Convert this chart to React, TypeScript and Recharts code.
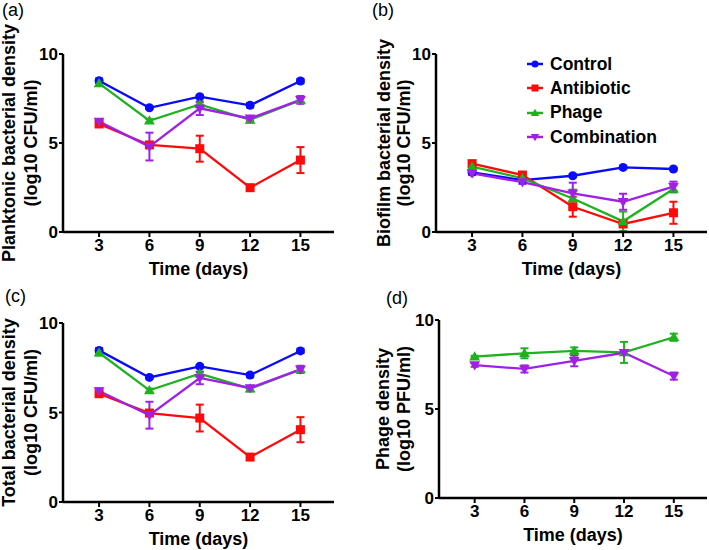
import React from "react";
import { LineChart, Line, XAxis, YAxis, ErrorBar, Legend } from "recharts";

const days = [3, 6, 9, 12, 15];

// (a) planktonic density
const planktonicControl = [8.5, 6.98, 7.6, 7.12, 8.48];
const planktonicControlErr = [0.12, 0.06, 0.08, 0.12, 0.12];
const planktonicAntibiotic = [6.07, 4.89, 4.68, 2.49, 4.04];
const planktonicAntibioticErr = [0.15, 0.1, 0.73, 0.1, 0.73];
const planktonicPhage = [8.35, 6.25, 7.17, 6.3, 7.4];
const planktonicPhageErr = [0.15, 0.1, 0.1, 0.15, 0.1];
const planktonicCombination = [6.2, 4.8, 6.95, 6.38, 7.42];
const planktonicCombinationErr = [0.15, 0.78, 0.38, 0.12, 0.22];

// (b) biofilm density
const biofilmControl = [3.35, 2.92, 3.16, 3.63, 3.54];
const biofilmControlErr = [0.08, 0.05, 0.08, 0.08, 0.08];
const biofilmAntibiotic = [3.84, 3.2, 1.42, 0.45, 1.08];
const biofilmAntibioticErr = [0.1, 0.1, 0.56, 0.15, 0.62];
const biofilmPhage = [3.67, 3.02, 1.88, 0.6, 2.42];
const biofilmPhageErr = [0.1, 0.08, 0.5, 0.55, 0.2];
const biofilmCombination = [3.3, 2.8, 2.17, 1.7, 2.55];
const biofilmCombinationErr = [0.1, 0.1, 0.6, 0.45, 0.28];

// (c) total density
const totalControl = [8.47, 6.96, 7.58, 7.09, 8.44];
const totalControlErr = [0.12, 0.06, 0.08, 0.12, 0.12];
const totalAntibiotic = [6.05, 4.97, 4.69, 2.51, 4.04];
const totalAntibioticErr = [0.15, 0.1, 0.75, 0.1, 0.7];
const totalPhage = [8.34, 6.24, 7.17, 6.33, 7.4];
const totalPhageErr = [0.15, 0.1, 0.1, 0.15, 0.1];
const totalCombination = [6.2, 4.85, 6.93, 6.37, 7.41];
const totalCombinationErr = [0.15, 0.75, 0.35, 0.12, 0.2];

// (d) phage density
const phageDensityPhage = [7.94, 8.13, 8.26, 8.18, 9.03];
const phageDensityPhageErr = [0.05, 0.28, 0.2, 0.59, 0.2];
const phageDensityCombination = [7.47, 7.25, 7.7, 8.16, 6.85];
const phageDensityCombinationErr = [0.1, 0.2, 0.3, 0.1, 0.2];

const yTicks = [0, 5, 10];
const FONT = "'Liberation Sans', Arial, sans-serif";

type Shape = "circle" | "square" | "up" | "down";
type Series = { key: string; name: string; color: string; shape: Shape };

const CONTROL: Series = { key: "control", name: "Control", color: "#0a0aff", shape: "circle" };
const ANTIBIOTIC: Series = { key: "antibiotic", name: "Antibiotic", color: "#ff0a0a", shape: "square" };
const PHAGE: Series = { key: "phage", name: "Phage", color: "#1fb21f", shape: "up" };
const COMBINATION: Series = { key: "combination", name: "Combination", color: "#a020e8", shape: "down" };
const allSeries = [CONTROL, ANTIBIOTIC, PHAGE, COMBINATION];

function rows(cols: Record<string, number[]>) {
  return days.map((day, i) => {
    const r: Record<string, number> = { day };
    Object.keys(cols).forEach((k) => (r[k] = cols[k][i]));
    return r;
  });
}

const dataA = rows({
  control: planktonicControl, controlErr: planktonicControlErr,
  antibiotic: planktonicAntibiotic, antibioticErr: planktonicAntibioticErr,
  phage: planktonicPhage, phageErr: planktonicPhageErr,
  combination: planktonicCombination, combinationErr: planktonicCombinationErr,
});
const dataB = rows({
  control: biofilmControl, controlErr: biofilmControlErr,
  antibiotic: biofilmAntibiotic, antibioticErr: biofilmAntibioticErr,
  phage: biofilmPhage, phageErr: biofilmPhageErr,
  combination: biofilmCombination, combinationErr: biofilmCombinationErr,
});
const dataC = rows({
  control: totalControl, controlErr: totalControlErr,
  antibiotic: totalAntibiotic, antibioticErr: totalAntibioticErr,
  phage: totalPhage, phageErr: totalPhageErr,
  combination: totalCombination, combinationErr: totalCombinationErr,
});
const dataD = rows({
  phage: phageDensityPhage, phageErr: phageDensityPhageErr,
  combination: phageDensityCombination, combinationErr: phageDensityCombinationErr,
});

function marker(shape: Shape, color: string, cx: number, cy: number, s: number, key?: string) {
  if (shape === "circle") return <circle key={key} cx={cx} cy={cy} r={s} fill={color} />;
  if (shape === "square")
    return <rect key={key} x={cx - s} y={cy - s} width={s * 2} height={s * 2} fill={color} />;
  const h = s * 1.2;
  const d =
    shape === "up"
      ? `M${cx},${cy - h} L${cx + h},${cy + s * 0.85} L${cx - h},${cy + s * 0.85} Z`
      : `M${cx},${cy + h} L${cx + h},${cy - s * 0.85} L${cx - h},${cy - s * 0.85} Z`;
  return <path key={key} d={d} fill={color} />;
}

const makeDot = (s: Series) => (props: any) => {
  const { cx, cy, index } = props;
  if (cx == null || cy == null) return <g key={`${s.key}-${index}`} />;
  return marker(s.shape, s.color, cx, cy, 4.5, `${s.key}-${index}`);
};

const tickStyle = { fill: "#000", fontSize: 17, fontWeight: "bold", fontFamily: FONT };

function renderLegend() {
  return (
    <div style={{ fontFamily: FONT }}>
      {allSeries.map((s) => (
        <div key={s.key} style={{ display: "flex", alignItems: "center", height: 24.3 }}>
          <svg width={18} height={12}>
            <line x1={1} x2={17} y1={6} y2={6} stroke={s.color} strokeWidth={2.5} />
            {marker(s.shape, s.color, 9, 6, 3.5)}
          </svg>
          <span style={{ marginLeft: 6, fontSize: 17.5, fontWeight: "bold", color: "#000" }}>
            {s.name}
          </span>
        </div>
      ))}
    </div>
  );
}

type PanelProps = {
  data: Record<string, number>[];
  series: Series[];
  width: number;
  height: number;
  margin: { top: number; right: number; bottom: number; left: number };
  xHeight: number;
  yTitle: [string, string];
  yTitleOffsets: [number, number];
  legend?: boolean;
};

function Panel({ data, series, width, height, margin, xHeight, yTitle, yTitleOffsets, legend }: PanelProps) {
  return (
    <LineChart width={width} height={height} data={data} margin={margin}>
      <XAxis
        type="number"
        dataKey="day"
        domain={[0.85, 17]}
        ticks={days}
        allowDataOverflow
        height={xHeight}
        tick={tickStyle}
        tickSize={5}
        tickMargin={2}
        axisLine={{ stroke: "#000", strokeWidth: 2.5 }}
        tickLine={{ stroke: "#000", strokeWidth: 2 }}
        label={{
          content: (p: any) => {
            const vb = p.viewBox;
            return (
              <text
                x={vb.x + vb.width / 2}
                y={vb.y + 43}
                textAnchor="middle"
                fontSize={18}
                fontWeight="bold"
                fontFamily={FONT}
                fill="#000"
              >
                Time (days)
              </text>
            );
          },
        }}
      />
      <YAxis
        type="number"
        domain={[0, 10]}
        ticks={yTicks}
        width={60}
        tick={tickStyle}
        tickSize={4}
        tickMargin={1}
        axisLine={{ stroke: "#000", strokeWidth: 2.5 }}
        tickLine={{ stroke: "#000", strokeWidth: 2 }}
        label={{
          content: (p: any) => {
            const vb = p.viewBox;
            const right = vb.x + vb.width;
            const cy = vb.y + vb.height / 2;
            return (
              <g fontSize={18} fontWeight="bold" fontFamily={FONT} fill="#000">
                {yTitle.map((t, i) => {
                  const x = right - yTitleOffsets[i];
                  return (
                    <text
                      key={i}
                      x={x}
                      y={cy}
                      textAnchor="middle"
                      dominantBaseline="central"
                      transform={`rotate(-90, ${x}, ${cy})`}
                    >
                      {t}
                    </text>
                  );
                })}
              </g>
            );
          },
        }}
      />
      {legend && (
        <Legend
          layout="vertical"
          align="center"
          verticalAlign="middle"
          content={renderLegend}
          wrapperStyle={{ left: 172, top: 52, width: 180 }}
        />
      )}
      {series.map((s) => (
        <Line
          key={s.key}
          type="linear"
          dataKey={s.key}
          name={s.name}
          stroke={s.color}
          strokeWidth={2.3}
          dot={makeDot(s)}
          activeDot={false}
          isAnimationActive={false}
        >
          <ErrorBar dataKey={`${s.key}Err`} width={4} strokeWidth={2} stroke={s.color} direction="y" />
        </Line>
      ))}
    </LineChart>
  );
}

const panelLabel = (text: string, left: number, top: number) => (
  <div
    style={{
      position: "absolute",
      left,
      top,
      fontFamily: FONT,
      fontSize: 18,
      lineHeight: "20px",
      color: "#000",
    }}
  >
    {text}
  </div>
);

export default function App() {
  return (
    <div style={{ position: "absolute", left: 0, top: 0, width: 709, height: 550, background: "#fff", overflow: "hidden" }}>
      <div style={{ position: "absolute", left: 0, top: 0 }}>
        <Panel
          data={dataA}
          series={allSeries}
          width={354}
          height={290}
          margin={{ top: 54, right: 20, bottom: 15, left: 3 }}
          xHeight={43}
          yTitle={["Planktonic bacterial density", "(log10 CFU/ml)"]}
          yTitleOffsets={[54, 32]}
        />
      </div>
      <div style={{ position: "absolute", left: 354, top: 0 }}>
        <Panel
          data={dataB}
          series={allSeries}
          width={355}
          height={290}
          margin={{ top: 54, right: 2, bottom: 15, left: 22 }}
          xHeight={43}
          yTitle={["Biofilm bacterial density", "(log10 CFU/ml)"]}
          yTitleOffsets={[52, 32]}
          legend
        />
      </div>
      <div style={{ position: "absolute", left: 0, top: 275 }}>
        <Panel
          data={dataC}
          series={allSeries}
          width={354}
          height={275}
          margin={{ top: 48, right: 20, bottom: 0, left: 3 }}
          xHeight={48}
          yTitle={["Total bacterial density", "(log10 CFU/ml)"]}
          yTitleOffsets={[54, 32]}
        />
      </div>
      <div style={{ position: "absolute", left: 354, top: 275 }}>
        <Panel
          data={dataD}
          series={[PHAGE, COMBINATION]}
          width={355}
          height={275}
          margin={{ top: 45, right: 2, bottom: 0, left: 25 }}
          xHeight={52}
          yTitle={["Phage density", "(log10 PFU/ml)"]}
          yTitleOffsets={[56, 35]}
        />
      </div>
      {panelLabel("(a)", 2, 0)}
      {panelLabel("(b)", 372, 0)}
      {panelLabel("(c)", 5, 286)}
      {panelLabel("(d)", 386, 288)}
    </div>
  );
}
